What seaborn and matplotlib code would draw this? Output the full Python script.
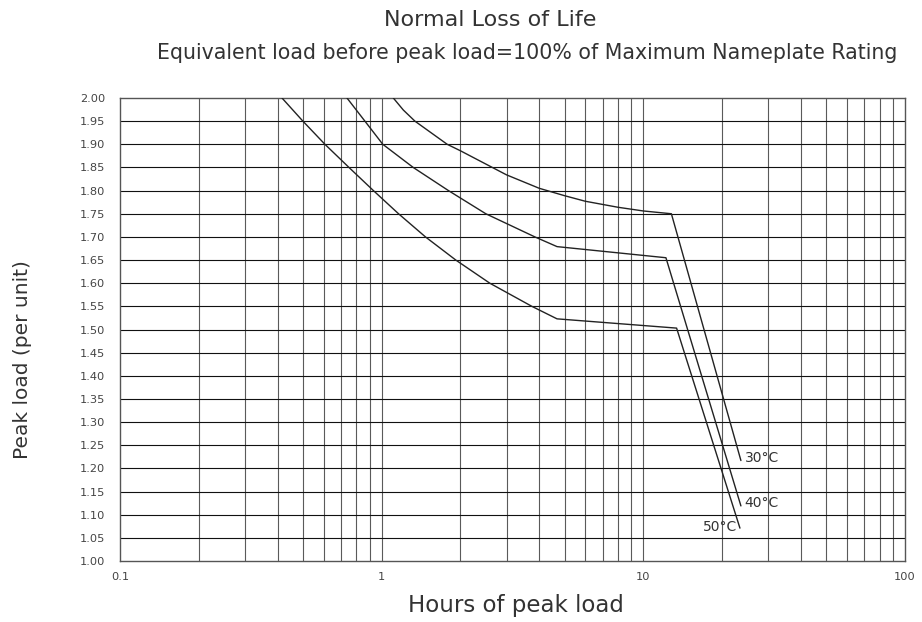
import numpy as np
import pandas as pd
import matplotlib
matplotlib.use("Agg")
import matplotlib.pyplot as plt
import seaborn as sns

# ---- data ----
hours_30 = [1.108, 1.21, 1.34, 1.78, 2.0, 3.0, 4.0, 5.0, 6.0, 8.0, 10.0, 12.8, 23.6]
load_30 = [2.00, 1.974, 1.95, 1.90, 1.886, 1.834, 1.805, 1.789, 1.777, 1.764, 1.756, 1.75, 1.217]

hours_40 = [0.737, 0.863, 1.01, 1.32, 1.80, 2.50, 3.85, 4.68, 12.2, 23.6]
load_40 = [2.00, 1.95, 1.90, 1.85, 1.80, 1.75, 1.70, 1.679, 1.655, 1.119]

hours_50 = [0.416, 0.50, 0.607, 0.75, 0.93, 1.16, 1.47, 1.92, 2.59, 3.75, 4.68, 13.4, 23.4]
load_50 = [2.00, 1.95, 1.90, 1.85, 1.80, 1.75, 1.70, 1.65, 1.60, 1.55, 1.523, 1.503, 1.071]

series_names = ["30°C", "40°C", "50°C"]
label_anchor = [(24.4, 1.214, "left"), (24.4, 1.117, "left"), (22.8, 1.065, "right")]

y_ticks = [round(1.00 + 0.05 * i, 2) for i in range(21)]
x_tick_vals = [0.1, 1, 10, 100]
x_tick_labels = ["0.1", "1", "10", "100"]

title_1 = "Normal Loss of Life"
title_2 = "Equivalent load before peak load=100% of Maximum Nameplate Rating"
x_label = "Hours of peak load"
y_label = "Peak load (per unit)"

# ---- build tidy frame ----
frames = []
for name, hx, ly in zip(series_names, [hours_30, hours_40, hours_50], [load_30, load_40, load_50]):
    frames.append(pd.DataFrame({"hours": hx, "load": ly, "curve": name}))
df = pd.concat(frames, ignore_index=True)

sns.set_style("white")
plt.rcParams["font.family"] = ["DejaVu Sans"]

fig = plt.figure(figsize=(9.22, 6.22), dpi=100)
ax = fig.add_axes([120 / 922, 1 - 561 / 622, 785 / 922, 463 / 622])

ax.set_xscale("log")
ax.set_xlim(0.1, 100)
ax.set_ylim(1.0, 2.0)

# grid
minor_x = [m * 10.0 ** e for e in (-1, 0, 1) for m in range(2, 10)]
for xv in minor_x + [1, 10]:
    ax.axvline(xv, color="#5a5a5a", lw=0.8, zorder=1)
for yv in y_ticks[1:-1]:
    ax.axhline(yv, color="#111111", lw=0.8, zorder=1)

sns.lineplot(data=df, x="hours", y="load", units="curve", estimator=None, sort=False,
             color="#222222", lw=1.0, ax=ax, zorder=3, legend=False)

for name, (tx, ty, ha) in zip(series_names, label_anchor):
    ax.text(tx, ty, name, ha=ha, va="baseline", fontsize=10, color="#333333", zorder=4)

ax.set_xticks(x_tick_vals)
ax.set_xticklabels(x_tick_labels)
ax.xaxis.set_minor_locator(matplotlib.ticker.NullLocator())
ax.set_yticks(y_ticks)
ax.set_yticklabels([f"{v:.2f}" for v in y_ticks])
ax.tick_params(axis="both", length=0, labelsize=8.2, labelcolor="#444444")
ax.tick_params(axis="x", pad=8)
ax.tick_params(axis="y", pad=10.5)
ax.set_xlabel("")
ax.set_ylabel("")

for s in ax.spines.values():
    s.set_color("#555555")
    s.set_linewidth(1.0)
    s.set_visible(True)

fig.text(490 / 922, 1 - 26 / 622, title_1, ha="center", va="baseline", fontsize=16, color="#333333")
fig.text(527 / 922, 1 - 59 / 622, title_2, ha="center", va="baseline", fontsize=14.8, color="#333333")
fig.text(516 / 922, 1 - 612 / 622, x_label, ha="center", va="baseline", fontsize=16.5, color="#333333")
fig.text(22 / 922, 1 - 360 / 622, y_label, ha="center", va="center", rotation=90, fontsize=14.5, color="#333333")

fig.savefig("out.png", dpi=100)
